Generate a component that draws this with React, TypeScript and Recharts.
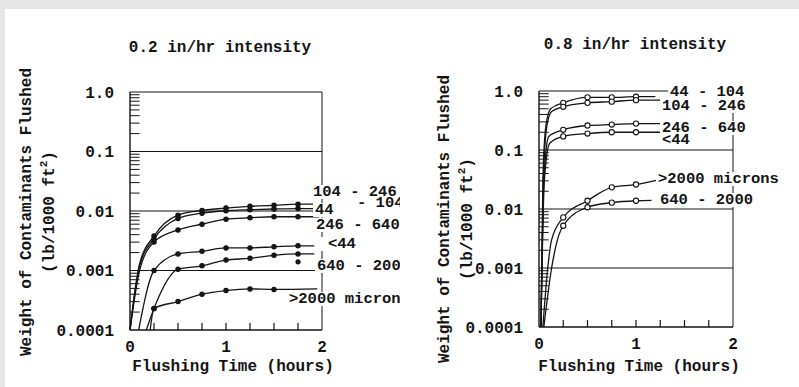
import React from 'react';
import { ComposedChart, Line, XAxis, YAxis, CartesianGrid, ReferenceLine, Scatter } from 'recharts';

const FONT = "'Liberation Mono', 'Courier New', monospace";

// axes
const yTicks = [0.0001, 0.001, 0.01, 0.1, 1];
const yTickLabels = ['0.0001', '0.001', '0.01', '0.1', '1.0'];
const xTicks = [0, 1, 2];
const xTickLabels = ['0', '1', '2'];
const minorXTicks = [0.25, 0.5, 0.75, 1, 1.25, 1.5, 1.75];
const minorYMultipliers = [2, 3, 4, 5, 6, 7, 8, 9];
const minorYDecades = [0.0001, 0.001, 0.01, 0.1];

// 0.2 in/hr intensity (left panel)
const markersLow = [0.25, 0.5, 0.75, 1, 1.25, 1.5, 1.75];
const lowT_104_246 = [0, 0.1, 0.25, 0.5, 0.75, 1, 1.25, 1.5, 1.75, 1.95];
const lowW_104_246 = [0.0001, 0.0013, 0.0038, 0.0085, 0.0102, 0.0112, 0.012, 0.0125, 0.013, 0.013];
const lowT_44_104 = [0, 0.1, 0.25, 0.5, 0.75, 1, 1.25, 1.5, 1.75, 1.92];
const lowW_44_104 = [0.0001, 0.0012, 0.0034, 0.0075, 0.0092, 0.0101, 0.0105, 0.0108, 0.011, 0.011];
const lowT_246_640 = [0, 0.1, 0.25, 0.5, 0.75, 1, 1.25, 1.5, 1.75, 1.97];
const lowW_246_640 = [0.0001, 0.001, 0.003, 0.0048, 0.006, 0.0073, 0.0077, 0.008, 0.008, 0.008];
const lowT_lt44 = [0.09, 0.25, 0.5, 0.75, 1, 1.25, 1.5, 1.75, 1.92];
const lowW_lt44 = [0.0001, 0.001, 0.0019, 0.0021, 0.0024, 0.0024, 0.0025, 0.0026, 0.0026];
const lowT_640_2000 = [0.17, 0.25, 0.5, 0.75, 1, 1.25, 1.5, 1.75, 1.92];
const lowW_640_2000 = [0.0001, 0.00023, 0.00105, 0.0012, 0.0015, 0.0016, 0.0018, 0.0019, 0.0019];
const lowT_gt2000 = [0.21, 0.25, 0.5, 0.75, 1, 1.25, 1.5, 1.95];
const lowW_gt2000 = [0.0001, 0.00023, 0.0003, 0.0004, 0.00046, 0.00049, 0.00048, 0.00049];
const lowOutlierT = [1.75];
const lowOutlierW = [0.0014];

// 0.8 in/hr intensity (right panel)
const markersHigh = [0.25, 0.5, 0.75, 1];
const highT_44_104 = [0.02, 0.04, 0.07, 0.12, 0.25, 0.5, 0.75, 1, 1.2];
const highW_44_104 = [0.0001, 0.03, 0.25, 0.5, 0.63, 0.78, 0.78, 0.8, 0.8];
const highT_104_246 = [0.02, 0.045, 0.08, 0.13, 0.25, 0.5, 0.75, 1, 1.25];
const highW_104_246 = [0.0001, 0.03, 0.25, 0.45, 0.54, 0.63, 0.66, 0.7, 0.7];
const highT_246_640 = [0.02, 0.05, 0.1, 0.25, 0.5, 0.75, 1, 1.25];
const highW_246_640 = [0.0001, 0.03, 0.17, 0.22, 0.26, 0.27, 0.28, 0.28];
const highT_lt44 = [0.02, 0.055, 0.11, 0.25, 0.5, 0.75, 1, 1.25];
const highW_lt44 = [0.0001, 0.03, 0.13, 0.17, 0.19, 0.2, 0.2, 0.2];
const highT_gt2000 = [0.04, 0.09, 0.13, 0.25, 0.5, 0.75, 1, 1.22];
const highW_gt2000 = [0.0001, 0.001, 0.003, 0.0072, 0.0138, 0.0233, 0.026, 0.031];
const highT_640_2000 = [0.05, 0.13, 0.19, 0.25, 0.5, 0.75, 1, 1.16];
const highW_640_2000 = [0.0001, 0.001, 0.003, 0.0052, 0.0107, 0.0128, 0.0138, 0.014];

type Pt = { x: number; y: number };
const toPts = (t: number[], w: number[]): Pt[] => t.map((x, i) => ({ x, y: w[i] }));

const lowSeries = [
  { name: '104 - 246', data: toPts(lowT_104_246, lowW_104_246) },
  { name: '44 - 104', data: toPts(lowT_44_104, lowW_44_104) },
  { name: '246 - 640', data: toPts(lowT_246_640, lowW_246_640) },
  { name: '<44', data: toPts(lowT_lt44, lowW_lt44) },
  { name: '640 - 2000', data: toPts(lowT_640_2000, lowW_640_2000) },
  { name: '>2000 microns', data: toPts(lowT_gt2000, lowW_gt2000) },
];
const highSeries = [
  { name: '44 - 104', data: toPts(highT_44_104, highW_44_104) },
  { name: '104 - 246', data: toPts(highT_104_246, highW_104_246) },
  { name: '246 - 640', data: toPts(highT_246_640, highW_246_640) },
  { name: '<44', data: toPts(highT_lt44, highW_lt44) },
  { name: '>2000 microns', data: toPts(highT_gt2000, highW_gt2000) },
  { name: '640 - 2000', data: toPts(highT_640_2000, highW_640_2000) },
];

const minorYValues: number[] = [];
minorYDecades.forEach((d) => minorYMultipliers.forEach((m) => minorYValues.push(+(d * m).toPrecision(3))));

const INK = '#141414';

const makeDot = (markers: number[], filled: boolean, r: number) => (props: any) => {
  const { cx, cy, payload, index } = props;
  const key = `dot-${index}-${cx}-${cy}`;
  if (!payload || !markers.includes(payload.x)) return <g key={key} />;
  return (
    <circle key={key} cx={cx} cy={cy} r={r} fill={filled ? INK : '#fff'} stroke={INK} strokeWidth={1.1} />
  );
};

type Lbl = { text: string; x: number; y: number; padLeft?: number };

type PanelProps = {
  left: number;
  width: number;
  margin: { top: number; right: number; bottom: number; left: number };
  series: { name: string; data: Pt[] }[];
  markers: number[];
  filled: boolean;
  r: number;
  outliers?: Pt[];
  title: string;
  titleX: number;
  titleY: number;
  yLabelX1: number;
  yLabelX2: number;
  yLabelY: number;
  xLabelX: number;
  labels: Lbl[];
};

const textStyle = { fontFamily: FONT, fontWeight: 700, fontSize: 16, fill: INK } as const;
const LABEL_SIZE = 15.5;

function Panel(p: PanelProps) {
  const H = 387;
  return (
    <div style={{ position: 'absolute', left: p.left, top: 0, width: p.width, height: H }}>
      <ComposedChart width={p.width} height={H} margin={p.margin}>
        <CartesianGrid vertical={false} stroke={INK} strokeWidth={1} />
        <XAxis
          dataKey="x"
          type="number"
          domain={[0, 2]}
          ticks={xTicks}
          tickFormatter={(v: number) => xTickLabels[xTicks.indexOf(v)] ?? ''}
          tickLine={false}
          tickMargin={5}
          axisLine={{ stroke: INK, strokeWidth: 1.2 }}
          tick={{ ...textStyle }}
          height={30}
          allowDuplicatedCategory={false}
        />
        <YAxis
          dataKey="y"
          type="number"
          scale="log"
          domain={[0.0001, 1]}
          ticks={yTicks}
          allowDataOverflow
          tickFormatter={(v: number) => {
            const i = yTicks.findIndex((t) => Math.abs(t - v) / t < 1e-6);
            return i >= 0 ? yTickLabels[i] : '';
          }}
          tickLine={false}
          tickMargin={10}
          axisLine={{ stroke: INK, strokeWidth: 1.4 }}
          tick={{ ...textStyle }}
          width={60}
        />
        <ReferenceLine x={2} stroke={INK} strokeWidth={1} ifOverflow="visible" />
        {minorYValues.map((v) => (
          <ReferenceLine
            key={`my-${v}`}
            segment={[{ x: 0, y: v }, { x: 0.1, y: v }]}
            stroke={INK}
            strokeWidth={1}
          />
        ))}
        {minorXTicks.map((v) => (
          <ReferenceLine
            key={`mx-${v}`}
            segment={[{ x: v, y: 0.0001 }, { x: v, y: 0.000131 }]}
            stroke={INK}
            strokeWidth={1.2}
          />
        ))}
        {p.series.map((s) => (
          <Line
            key={s.name}
            data={s.data}
            dataKey="y"
            name={s.name}
            type="monotone"
            stroke={INK}
            strokeWidth={1.3}
            dot={makeDot(p.markers, p.filled, p.r)}
            activeDot={false}
            isAnimationActive={false}
            legendType="none"
          />
        ))}
        {p.outliers && (
          <Scatter
            data={p.outliers}
            dataKey="y"
            fill={INK}
            shape={(props: any) => <circle cx={props.cx} cy={props.cy} r={2.6} fill={INK} />}
            isAnimationActive={false}
          />
        )}
      </ComposedChart>
      <svg
        width={p.width}
        height={H}
        style={{ position: 'absolute', left: 0, top: 0, pointerEvents: 'none' }}
      >
        <text x={p.titleX} y={p.titleY} textAnchor="middle" dominantBaseline="central" style={textStyle}>
          {p.title}
        </text>
        <text
          x={p.yLabelX1}
          y={p.yLabelY}
          textAnchor="middle"
          dominantBaseline="central"
          transform={`rotate(-90 ${p.yLabelX1} ${p.yLabelY})`}
          style={textStyle}
        >
          Weight of Contaminants Flushed
        </text>
        <text
          x={p.yLabelX2}
          y={p.yLabelY}
          textAnchor="middle"
          dominantBaseline="central"
          transform={`rotate(-90 ${p.yLabelX2} ${p.yLabelY})`}
          style={textStyle}
        >
          (lb/1000 ft
          <tspan fontSize={11} dy={-6}>2</tspan>
          <tspan dy={6}>)</tspan>
        </text>
        <text x={p.xLabelX} y={367} textAnchor="middle" dominantBaseline="central" style={textStyle}>
          Flushing Time (hours)
        </text>
        {p.labels.map((l, i) => {
          const pad = l.padLeft ?? 2;
          const w = l.text.length * LABEL_SIZE * 0.6;
          return (
            <rect key={`bg-${i}`} x={l.x - pad} y={l.y - 7} width={w + pad + 2} height={14} fill="#fff" />
          );
        })}
        {p.labels.map((l, i) => (
          <text
            key={i}
            x={l.x}
            y={l.y}
            dominantBaseline="central"
            style={{ ...textStyle, fontSize: LABEL_SIZE }}
          >
            {l.text}
          </text>
        ))}
      </svg>
    </div>
  );
}

export default function App() {
  return (
    <div style={{ position: 'absolute', left: 0, top: 0, width: 799, height: 387, background: '#e6e6e6', overflow: 'hidden' }}>
      <div style={{ position: 'absolute', left: 5, top: 9, width: 794, height: 378, background: '#fff' }} />
      <Panel
        left={0}
        width={400}
        margin={{ top: 92, right: 78, bottom: 27, left: 70 }}
        series={lowSeries}
        markers={markersLow}
        filled={true}
        r={2.2}
        outliers={toPts(lowOutlierT, lowOutlierW)}
        title="0.2 in/hr intensity"
        titleX={220}
        titleY={48}
        yLabelX1={27}
        yLabelX2={50}
        yLabelY={212}
        xLabelX={233}
        labels={[
          { text: '104 - 246', x: 313, y: 192 },
          { text: '44', x: 315, y: 210 },
          { text: '- 104', x: 357, y: 203 },
          { text: '246 - 640', x: 316, y: 225 },
          { text: '<44', x: 328, y: 244, padLeft: 10 },
          { text: '640 - 2000', x: 317, y: 266 },
          { text: '>2000 microns', x: 289, y: 299 },
        ]}
      />
      <Panel
        left={400}
        width={399}
        margin={{ top: 91, right: 66, bottom: 30, left: 79 }}
        series={highSeries}
        markers={markersHigh}
        filled={false}
        r={2.6}
        title="0.8 in/hr intensity"
        titleX={235}
        titleY={45}
        yLabelX1={45}
        yLabelX2={68}
        yLabelY={219}
        xLabelX={239}
        labels={[
          { text: '44 - 104', x: 270, y: 92 },
          { text: '104 - 246', x: 262, y: 106 },
          { text: '246 - 640', x: 262, y: 128 },
          { text: '<44', x: 262, y: 140 },
          { text: '>2000 microns', x: 258, y: 179 },
          { text: '640 - 2000', x: 260, y: 200 },
        ]}
      />
    </div>
  );
}
